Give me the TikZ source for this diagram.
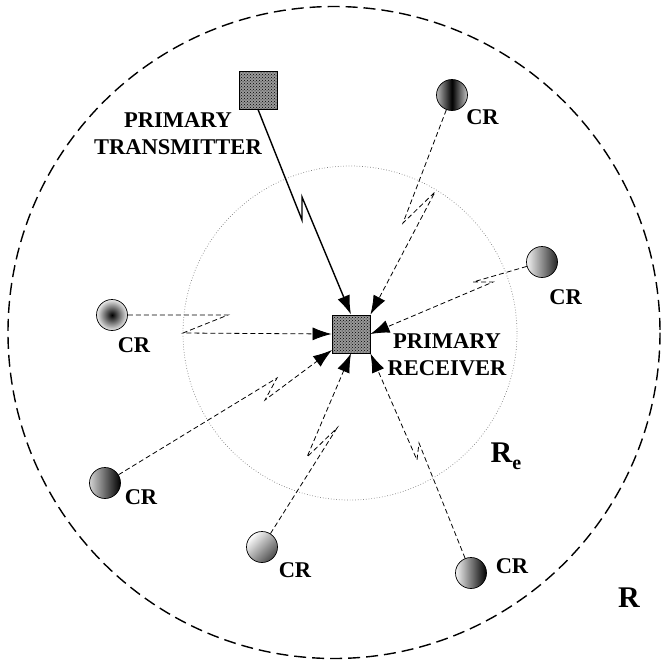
\documentclass[tikz,border=0pt]{standalone}
\usepackage{fontspec}
\setmainfont{Liberation Serif}
\usetikzlibrary{arrows.meta,patterns,calc}
\begin{document}
\begin{tikzpicture}[x=1pt,y=-1pt,
  sq/.style={draw,line width=0.9pt,minimum size=38pt,inner sep=0pt,fill=black!40,
    postaction={pattern=crosshatch dots,pattern color=black}},
  crnode/.style={circle,draw,line width=0.7pt,minimum size=31pt,inner sep=0pt},
  lbl/.style={font=\fontsize{22.5}{27}\selectfont\bfseries,inner sep=0pt,align=center},
  big/.style={font=\fontsize{30}{30}\selectfont\bfseries,inner sep=0pt},
  link/.style={dashed,dash pattern=on 5pt off 3pt,line width=0.8pt,-{Latex[length=19pt,width=13pt]}},
  txlink/.style={line width=1.4pt,-{Latex[length=19pt,width=13pt]}}]
\useasboundingbox (0,0) rectangle (664,670);
% range circles
\draw[dash pattern=on 12pt off 6pt,line width=1.4pt] (334,332.5) circle[radius=326];
\draw[dotted,gray,line width=0.7pt] (350,333) circle[radius=167];
% primary users
\node[sq] (tx) at (258,90) {};
\node[sq] (rx) at (351,334) {};
\node[lbl] (txl) at (178,134) {PRIMARY\\TRANSMITTER};
\node[lbl] (rxl) at (447,355) {PRIMARY\\RECEIVER};
% cognitive radios
\node[crnode,left color=gray!55,right color=gray!45,middle color=black] (cr1) at (452,95) {};
\node[crnode,left color=gray!10,right color=black!85] (cr2) at (542,262) {};
\node[crnode,shading=radial,inner color=black,outer color=gray!15] (cr3) at (112,315) {};
\node[crnode,left color=gray!35,right color=black] (cr4) at (105,483) {};
\node[crnode,top color=white,bottom color=black!70,shading angle=45] (cr5) at (262,547) {};
\node[crnode,left color=gray!8,right color=black] (cr6) at (471,573) {};
\node[lbl] (l1) at (482.5,117) {CR};
\node[lbl] (l2) at (565.5,297) {CR};
\node[lbl] (l3) at (134,345) {CR};
\node[lbl] (l4) at (141,497.5) {CR};
\node[lbl] (l5) at (295,570) {CR};
\node[lbl] (l6) at (512,566.5) {CR};
% radius labels
\node[big] (re) at (506,456) {R\raisebox{-7pt}{\fontsize{20}{20}\selectfont e}};
\node[big] (rr) at (629,598) {R};
% zigzag points
\coordinate (t1) at (302,220); \coordinate (t2) at (302,197);
\coordinate (a1) at (403,223); \coordinate (a2) at (435,192);
\coordinate (b1) at (473,282); \coordinate (b2) at (493,282);
\coordinate (c1) at (228,315); \coordinate (c2) at (183,333);
\coordinate (d1) at (277,378); \coordinate (d2) at (265,400);
\coordinate (e1) at (337,428); \coordinate (e2) at (307,457);
\coordinate (f1) at (419,443); \coordinate (f2) at (417,460);
\coordinate (dend) at (332,350);
% links
\draw[txlink] (tx.south) -- (t1) -- (t2) -- (rx.north);
\draw[link] (cr1) -- (a1) -- (a2) -- (rx.north east);
\draw[link] (cr2) -- (b1) -- (b2) -- (rx.east);
\draw[link] (cr3) -- (c1) -- (c2) -- (rx.west);
\draw[link] (cr4) -- (d1) -- (d2) -- (dend);
\draw[link] (cr5) -- (e1) -- (e2) -- (rx.south);
\draw[link] (cr6) -- (f1) -- (f2) -- (rx.south east);
\end{tikzpicture}
\end{document}
